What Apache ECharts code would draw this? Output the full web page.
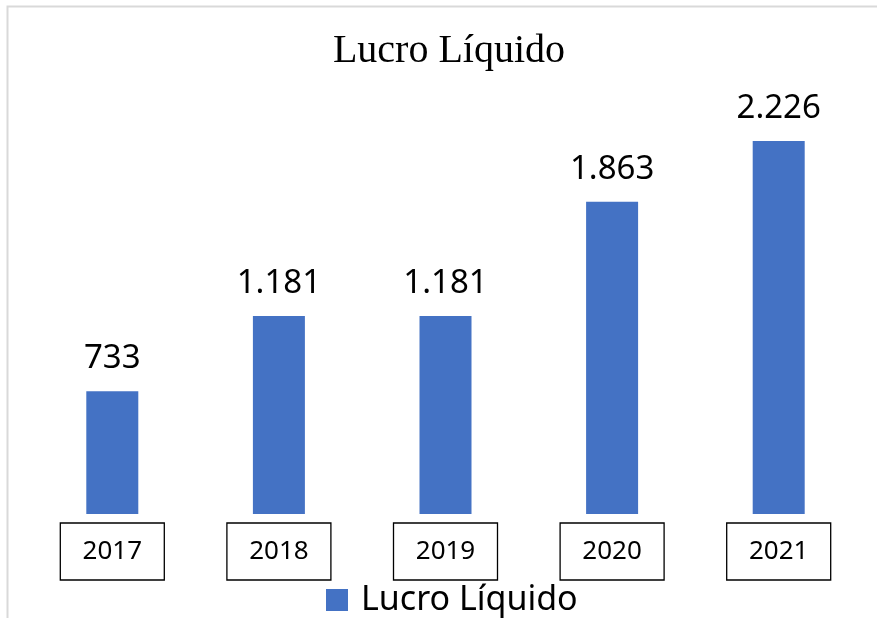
<!DOCTYPE html>
<html>
<head>
<meta charset="utf-8">
<script src="https://cdn.jsdelivr.net/npm/echarts@6/dist/echarts.min.js"></script>
<style>
  html, body { margin: 0; padding: 0; background: #ffffff; }
  #chart { width: 877px; height: 618px; }
</style>
</head>
<body>
<div id="chart"></div>
<script>
const years = ["2017", "2018", "2019", "2020", "2021"];
const lucroLiquido = [733, 1181, 1181, 1863, 2226];
const seriesName = "Lucro Líquido";

// value labels use a dot as thousands separator (pt-BR)
function fmt(v) {
  return String(v).replace(/\B(?=(\d{3})+(?!\d))/g, ".");
}

const chart = echarts.init(document.getElementById("chart"));
chart.setOption({
  backgroundColor: "#ffffff",
  animation: false,
  title: {
    text: "Lucro Líquido",
    left: 444,
    textAlign: "center",
    top: 26,
    textStyle: {
      fontFamily: "Liberation Serif",
      fontWeight: "normal",
      fontSize: 40,
      color: "#000000"
    }
  },
  legend: {
    bottom: -4,
    left: 321,
    icon: "rect",
    itemWidth: 22,
    itemHeight: 22,
    data: [seriesName],
    textStyle: {
      fontFamily: "Noto Sans",
      fontSize: 34,
      color: "#000000",
      padding: [0, 0, 0, 8]
    }
  },
  grid: {
    left: 29,
    right: 15,
    top: 95,
    bottom: 104
  },
  xAxis: {
    type: "category",
    data: years,
    axisLine: { show: false },
    axisTick: { show: false },
    axisLabel: {
      margin: 9,
      fontFamily: "Noto Sans",
      fontSize: 26,
      color: "#000000",
      width: 104,
      height: 57,
      lineHeight: 57,
      align: "center",
      borderColor: "#000000",
      borderWidth: 1.3,
      padding: 0
    }
  },
  yAxis: {
    type: "value",
    min: 0,
    max: 2500,
    show: false,
    splitLine: { show: false }
  },
  graphic: [
    {
      type: "polyline",
      shape: { points: [[7.5, 618], [7.5, 6.5], [877, 6.5]] },
      style: { stroke: "#d9d9d9", lineWidth: 2, fill: null },
      silent: true
    }
  ],
  series: [
    {
      name: seriesName,
      type: "bar",
      data: lucroLiquido,
      barWidth: 52,
      itemStyle: { color: "#4472C4" },
      label: {
        show: true,
        position: "top",
        distance: 16,
        fontFamily: "Noto Sans",
        fontSize: 33,
        color: "#000000",
        formatter: p => fmt(p.value)
      }
    }
  ]
});
</script>
</body>
</html>
